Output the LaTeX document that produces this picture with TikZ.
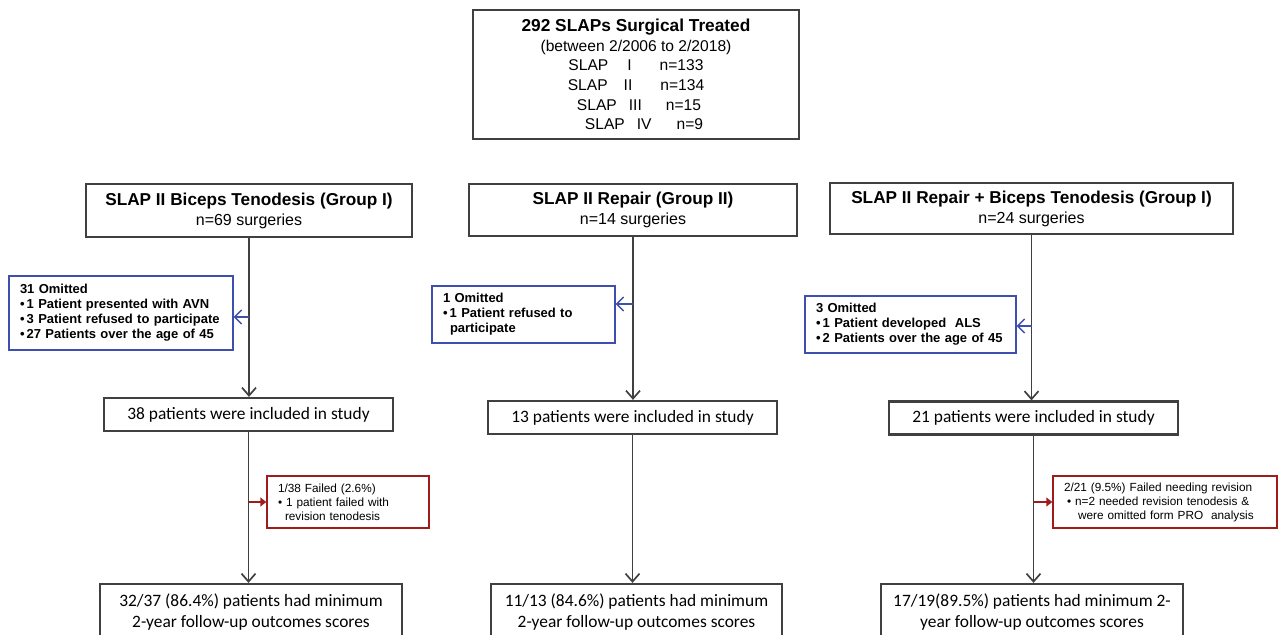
\documentclass[tikz,border=0pt]{standalone}
\usepackage{fontspec}
\setmainfont{Liberation Sans}
\newfontfamily\calfont{Carlito}
\usetikzlibrary{arrows.meta,positioning}

\definecolor{boxgray}{HTML}{404040}
\definecolor{omitblue}{HTML}{3F4FB0}
\definecolor{failred}{HTML}{A01C1C}

\tikzset{
	mainbox/.style={draw=boxgray, line width=1.1pt, inner sep=0pt, align=center},
	omitbox/.style={draw=omitblue, line width=0.6pt, inner xsep=5.5pt, inner ysep=0pt, align=left,
		font=\fontsize{6.5}{7.5}\selectfont\bfseries},
	failbox/.style={draw=failred, line width=0.75pt, inner xsep=5.5pt, inner ysep=0pt, align=left,
		font=\fontsize{5.9}{7}\selectfont},
	flow/.style={draw=boxgray, line width=0.85pt, -{Straight Barb[length=4pt,width=7pt]}},
	omitarrow/.style={draw=omitblue, line width=0.75pt, -{Straight Barb[length=3.5pt,width=7pt]}},
	failarrow/.style={draw=failred, line width=1pt, -{Triangle[length=3pt,width=4.5pt]}},
}

\begin{document}
\begin{tikzpicture}[x=0.5pt, y=-0.5pt]
			%%%%% START %%%%%
			\useasboundingbox (0,0) rectangle (1278,635);
			\clip (0,0) rectangle (1278,635);
			
			\node[mainbox, minimum width=163pt, minimum height=64.5pt, font=\fontsize{7.8}{9.8}\selectfont] (total) at (636,74.5)
				{{\fontsize{8.65}{9.8}\selectfont\bfseries 292 SLAPs Surgical Treated}\\
				(between 2/2006 to 2/2018)\\
				SLAP\hspace{9.5pt}I\hspace{14pt}n=133\\
				SLAP\hspace{8pt}II\hspace{14pt}n=134\\
				\hspace{3pt}SLAP\hspace{6pt}III\hspace{12pt}n=15\\
				\hspace{8pt}SLAP\hspace{6pt}IV\hspace{12.5pt}n=9};
			
			\node[mainbox, minimum width=163pt, minimum height=26.5pt, font=\fontsize{8}{10}\selectfont] (tenod) at (249,210.5)
				{{\fontsize{8.6}{10}\selectfont\bfseries SLAP II Biceps Tenodesis (Group I)}\\n=69 surgeries};
			\node[mainbox, minimum width=164pt, minimum height=26pt, font=\fontsize{8}{10}\selectfont] (repair) at (633,210)
				{{\fontsize{8.6}{10}\selectfont\bfseries SLAP II Repair (Group II)}\\n=14 surgeries};
			\node[mainbox, minimum width=201.5pt, minimum height=25.5pt, font=\fontsize{8}{10}\selectfont] (combo) at (1031.5,208.5)
				{{\fontsize{8.6}{10}\selectfont\bfseries SLAP II Repair + Biceps Tenodesis (Group I)}\\n=24 surgeries};
			
			\node[omitbox, text width=101pt, minimum height=37pt] (omitA) at (121,313)
				{31 Omitted\\
				\textbullet\,1 Patient presented with AVN\\
				\textbullet\,3 Patient refused to participate\\
				\textbullet\,27 Patients over the age of 45};
			\node[omitbox, text width=80.5pt, minimum height=28.5pt] (omitB) at (523.5,314.5)
				{1 Omitted\\
				\textbullet\,1 Patient refused to\\
				\hspace{3.5pt}participate};
			\node[omitbox, text width=94.5pt, minimum height=28.5pt] (omitC) at (910.5,324.5)
				{3 Omitted\\
				\textbullet\,1 Patient developed\ \ ALS\\
				\textbullet\,2 Patients over the age of 45};
			
			\node[mainbox, minimum width=144.5pt, minimum height=16.5pt, font=\calfont\fontsize{8.7}{10.5}\selectfont] (inclA) at (248.5,414.5)
				{38 patients were included in study};
			\node[mainbox, minimum width=144.5pt, minimum height=16.5pt, font=\calfont\fontsize{8.7}{10.5}\selectfont] (inclB) at (632.5,417.5)
				{13 patients were included in study};
			\node[mainbox, minimum width=144.5pt, minimum height=16.5pt, font=\calfont\fontsize{8.7}{10.5}\selectfont] (inclC) at (1033.5,418)
				{21 patients were included in study};
			
			\node[failbox, text width=70pt, minimum height=26pt] (failA) at (348,502)
				{1/38 Failed (2.6\%)\\
				\textbullet\ 1 patient failed with\\
				\hspace{3.5pt}revision tenodesis};
			\node[failbox, text width=101pt, minimum height=26pt] (failC) at (1165,502)
				{2/21 (9.5\%) Failed needing revision\\
				\hspace{1.5pt}\textbullet\ n=2 needed revision tenodesis \&\\
				\hspace{7pt}were omitted form PRO\ \ analysis};
			
			\node[mainbox, minimum width=151pt, minimum height=28pt, font=\calfont\fontsize{8.7}{10.5}\selectfont] (outA) at (251,612)
				{32/37 (86.4\%) patients had minimum\\2-year follow-up outcomes scores};
			\node[mainbox, minimum width=145.5pt, minimum height=28pt, font=\calfont\fontsize{8.7}{10.5}\selectfont] (outB) at (636.5,612)
				{11/13 (84.6\%) patients had minimum\\2-year follow-up outcomes scores};
			\node[mainbox, minimum width=151pt, minimum height=28pt, font=\calfont\fontsize{8.7}{10.5}\selectfont] (outC) at (1032,612)
				{17/19(89.5\%) patients had minimum 2-\\year follow-up outcomes scores};
			
			% main flow
			\draw[flow] (tenod.south) -- (tenod.south |- inclA.north);
			\draw[flow] (repair.south) -- (repair.south |- inclB.north);
			\draw[flow] (combo.south) -- (combo.south |- inclC.north);
			\draw[flow] (inclA.south) -- (inclA.south |- outA.north);
			\draw[flow] (inclB.south) -- (inclB.south |- outB.north);
			\draw[flow] (inclC.south) -- (inclC.south |- outC.north);
			
			% omitted branches
			\coordinate (splitA) at (tenod.south |- 0,317);
			\coordinate (splitB) at (repair.south |- 0,304);
			\coordinate (splitC) at (combo.south |- 0,326);
			\draw[omitarrow] (splitA) -- (omitA.east |- splitA);
			\draw[omitarrow] (splitB) -- (omitB.east |- splitB);
			\draw[omitarrow] (splitC) -- (omitC.east |- splitC);
			
			% failed branches
			\coordinate (failsplitA) at (inclA.south |- 0,502);
			\coordinate (failsplitC) at (inclC.south |- 0,502);
			\draw[failarrow] (failsplitA) -- (failA.west |- failsplitA);
			\draw[failarrow] (failsplitC) -- (failC.west |- failsplitC);
			
			%%%%% END %%%%%
\end{tikzpicture}
\end{document}
